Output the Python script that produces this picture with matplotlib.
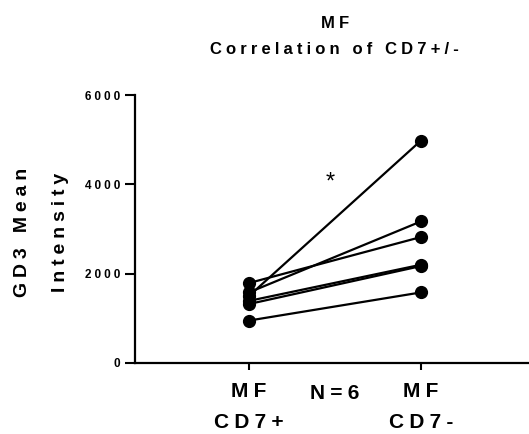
import matplotlib
matplotlib.use("Agg")
import matplotlib.pyplot as plt

# GD3 mean intensity, paired samples (MF CD7+ vs MF CD7-)
groups = ["MF\nCD7+", "MF\nCD7-"]
cd7_pos = [1790, 1580, 1500, 1390, 1320, 950]
cd7_neg = [2820, 3170, 4980, 2200, 2170, 1580]
y_ticks = [0, 2000, 4000, 6000]

FONT = ["Liberation Sans", "DejaVu Sans"]
SP = "\u2005"  # four-per-em space, mimics GraphPad letter spacing


def spaced(s, sp=SP):
	return "\n".join(sp.join(line) for line in s.split("\n"))


fig = plt.figure(figsize=(5.29, 4.34), dpi=100)
ax = fig.add_axes([0.255, 0.1636, 0.745, 0.6175])

xs = list(range(len(groups)))
for a, b in zip(cd7_pos, cd7_neg):
	ax.plot(xs, [a, b], color="black", lw=1.6, marker="o", ms=8.5,
		markerfacecolor="black", markeredgecolor="black", solid_capstyle="round")

ax.set_xlim(-0.663, 1.628)
ax.set_ylim(0, 6000)
ax.set_yticks(y_ticks)
ax.set_yticklabels([spaced(str(v)) for v in y_ticks], fontsize=8.5, fontweight="bold", family=FONT)
ax.set_xticks(xs)
ax.set_xticklabels([spaced(g) for g in groups], fontsize=15, fontweight="bold",
	family=FONT, linespacing=1.75)
ax.tick_params(axis="y", length=7, width=1.5, pad=3.5)
ax.tick_params(axis="x", length=5, width=1.5, pad=9)

for side in ["top", "right"]:
	ax.spines[side].set_visible(False)
for side in ["left", "bottom"]:
	ax.spines[side].set_linewidth(1.6)

ax.text(0.47, 4030, "*", fontsize=17, ha="center", va="center", family=FONT)

# y label in two lines, rotated
fig.text(0.043, 0.465, spaced("GD3 Mean"), rotation=90, fontsize=14, fontweight="bold",
	family=FONT, ha="center", va="center")
fig.text(0.114, 0.465, spaced("Intensity"), rotation=90, fontsize=14, fontweight="bold",
	family=FONT, ha="center", va="center")

fig.text(0.633, 0.093, spaced("N=6"), fontsize=15, fontweight="bold", family=FONT,
	ha="center", va="center")

fig.text(0.633, 0.947, spaced("MF"), fontsize=12, fontweight="bold", family=FONT,
	ha="center", va="center")
fig.text(0.633, 0.885, spaced("Correlation of CD7+/-"), fontsize=12, fontweight="bold",
	family=FONT, ha="center", va="center")

fig.savefig("out.png", dpi=100)
